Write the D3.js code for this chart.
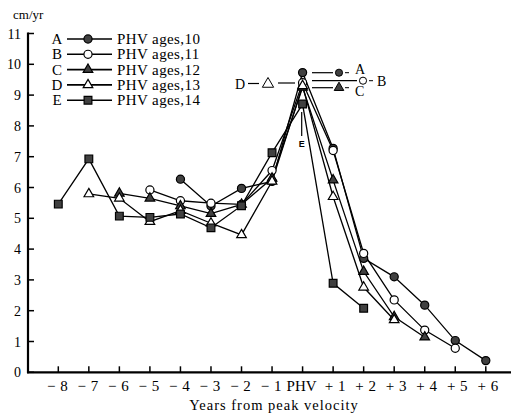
<!DOCTYPE html>
<html>
<head>
<meta charset="utf-8">
<script src="https://cdn.jsdelivr.net/npm/d3@7"></script>
<style>
  body { margin: 0; background: #fff; }
  svg { display: block; font-family: "Liberation Serif", "DejaVu Serif", serif; }
</style>
</head>
<body>
<div id="chart"></div>
<script>
// Years from peak height velocity (PHV = 0)
const years = [-8, -7, -6, -5, -4, -3, -2, -1, 0, 1, 2, 3, 4, 5, 6];
const tickLabels = ["− 8", "− 7", "− 6", "− 5", "− 4", "− 3", "− 2", "− 1", "PHV", "+ 1", "+ 2", "+ 3", "+ 4", "+ 5", "+ 6"];

// growth velocity (cm/yr), null = no value
const seriesA = [null, null, null, null, 6.27, 5.4, 5.97, 6.2, 9.73, 7.27, 3.70, 3.1, 2.18, 1.03, 0.38];
const seriesB = [null, null, null, 5.92, 5.57, 5.49, 5.45, 6.55, 9.4, 7.2, 3.86, 2.35, 1.37, 0.78, null];
const seriesC = [null, null, 5.81, 5.65, 5.40, 5.15, 5.45, 6.3, 9.25, 6.24, 3.27, 1.8, 1.14, null, null];
const seriesD = [null, 5.79, 5.65, 4.89, 5.25, 4.84, 4.46, 6.2, 9.3, 5.70, 2.76, 1.70, null, null, null];
const seriesE = [5.46, 6.93, 5.07, 5.03, 5.14, 4.69, 5.41, 7.13, 8.71, 2.89, 2.08, null, null, null, null];

const letters = ["A", "B", "C", "D", "E"];
const legendLabels = ["PHV ages,10", "PHV ages,11", "PHV ages,12", "PHV ages,13", "PHV ages,14"];
const yTicks = [0, 1, 2, 3, 4, 5, 6, 7, 8, 9, 10, 11];

const W = 511, H = 420;
const dark = "#404040";

const svg = d3.select("#chart").append("svg")
    .attr("width", W)
    .attr("height", H);

const x = d3.scaleLinear().domain([-8, 6]).range([58.3, 485.8]);
const y = d3.scaleLinear().domain([0, 11]).range([372.3, 33.5]);
const x0 = 28;

// marker styles per series
const styles = [
    { type: d3.symbolCircle, size: 52, fill: dark },
    { type: d3.symbolCircle, size: 52, fill: "#fff" },
    { type: d3.symbolTriangle, size: 40, fill: dark },
    { type: d3.symbolTriangle, size: 40, fill: "#fff" },
    { type: d3.symbolSquare, size: 60, fill: dark }
];
const allSeries = [seriesA, seriesB, seriesC, seriesD, seriesE];

// axes
svg.append("line")
    .attr("x1", x0).attr("x2", x0)
    .attr("y1", y(11) - 1).attr("y2", y(0) + 1)
    .attr("stroke", "#000").attr("stroke-width", 2.2);
svg.append("line")
    .attr("x1", x0 - 1).attr("x2", W)
    .attr("y1", y(0)).attr("y2", y(0))
    .attr("stroke", "#000").attr("stroke-width", 2.2);

// y ticks (inside)
svg.append("g").selectAll("line")
    .data(yTicks)
    .join("line")
    .attr("x1", x0).attr("x2", x0 + 6)
    .attr("y1", d => y(d)).attr("y2", d => y(d))
    .attr("stroke", "#000").attr("stroke-width", 1.5);

svg.append("g").selectAll("text")
    .data(yTicks)
    .join("text")
    .attr("x", 21)
    .attr("y", d => y(d) + 5)
    .attr("text-anchor", "end")
    .attr("font-size", 14)
    .text(d => d);

// x ticks (upward)
svg.append("g").selectAll("line")
    .data(years)
    .join("line")
    .attr("x1", d => x(d)).attr("x2", d => x(d))
    .attr("y1", y(0)).attr("y2", y(0) - 6)
    .attr("stroke", "#000").attr("stroke-width", 1.5);

svg.append("g").selectAll("text")
    .data(years)
    .join("text")
    .attr("x", (d, i) => x(d) + (d > 0 ? 2 : -1))
    .attr("y", 391)
    .attr("text-anchor", "middle")
    .attr("font-size", 15)
    .attr("word-spacing", 1)
    .text((d, i) => tickLabels[i]);

// axis titles
svg.append("text")
    .attr("x", 13).attr("y", 19)
    .attr("font-size", 13)
    .text("cm/yr");

svg.append("text")
    .attr("x", 274).attr("y", 410)
    .attr("text-anchor", "middle")
    .attr("font-size", 14.5)
    .attr("letter-spacing", 1)
    .text("Years from peak velocity");

// lines
const line = d3.line()
    .defined(d => d.v !== null)
    .x(d => x(d.t))
    .y(d => y(d.v));

allSeries.forEach((s, k) => {
    const pts = years.map((t, i) => ({ t: t, v: s[i] }));
    svg.append("path")
        .datum(pts)
        .attr("fill", "none")
        .attr("stroke", "#000")
        .attr("stroke-width", 1.3)
        .attr("d", line);
});

// markers
allSeries.forEach((s, k) => {
    const pts = years.map((t, i) => ({ t: t, v: s[i] })).filter(d => d.v !== null);
    const st = styles[k];
    svg.append("g").selectAll("path")
        .data(pts)
        .join("path")
        .attr("transform", d => `translate(${x(d.t)},${y(d.v)})`)
        .attr("d", d3.symbol().type(st.type).size(st.size))
        .attr("fill", st.fill)
        .attr("stroke", "#000")
        .attr("stroke-width", 1.2);
});

// legend
const legend = svg.append("g");
letters.forEach((l, i) => {
    const ly = 39 + i * 15.3;
    const st = styles[i];
    legend.append("text")
        .attr("x", 57).attr("y", ly + 5)
        .attr("text-anchor", "middle")
        .attr("font-size", 15)
        .text(l);
    legend.append("line")
        .attr("x1", 67).attr("x2", 112)
        .attr("y1", ly).attr("y2", ly)
        .attr("stroke", "#000").attr("stroke-width", 1.6);
    legend.append("path")
        .attr("transform", `translate(88,${ly})`)
        .attr("d", d3.symbol().type(st.type).size(st.size))
        .attr("fill", st.fill)
        .attr("stroke", "#000")
        .attr("stroke-width", 1.2);
    legend.append("text")
        .attr("x", 117).attr("y", ly + 5)
        .attr("font-size", 15)
        .attr("letter-spacing", 0.4)
        .text(legendLabels[i]);
});

// peak annotations
const ann = svg.append("g");
ann.append("text").attr("x", 235).attr("y", 89).attr("font-size", 14).text("D");
ann.append("line").attr("x1", 248).attr("x2", 259).attr("y1", 83.5).attr("y2", 83.5)
    .attr("stroke", "#000").attr("stroke-width", 1.2);
ann.append("path").attr("transform", "translate(268,84)")
    .attr("d", d3.symbol().type(d3.symbolTriangle).size(55))
    .attr("fill", "#fff").attr("stroke", "#000").attr("stroke-width", 1);
ann.append("line").attr("x1", 278).attr("x2", 295).attr("y1", 83).attr("y2", 83)
    .attr("stroke", "#000").attr("stroke-width", 1.2);

const rightAnn = [
    { yy: 72.7, x2: 333, mx: 339, type: d3.symbolCircle, fill: dark, lx: 355, label: "A", ty: 74 },
    { yy: 80.7, x2: 357, mx: 363, type: d3.symbolCircle, fill: "#fff", lx: 377, label: "B", ty: 86 },
    { yy: 87.7, x2: 333, mx: 339, type: d3.symbolTriangle, fill: dark, lx: 355, label: "C", ty: 96 }
];
rightAnn.forEach(a => {
    ann.append("line").attr("x1", 312).attr("x2", a.x2).attr("y1", a.yy).attr("y2", a.yy)
        .attr("stroke", "#000").attr("stroke-width", 1.2);
    ann.append("path").attr("transform", `translate(${a.mx},${a.yy})`)
        .attr("d", d3.symbol().type(a.type).size(40))
        .attr("fill", a.fill).attr("stroke", "#000").attr("stroke-width", 1);
    ann.append("line").attr("x1", a.mx + 6).attr("x2", a.mx + 10).attr("y1", a.yy).attr("y2", a.yy)
        .attr("stroke", "#000").attr("stroke-width", 1);
    ann.append("text").attr("x", a.lx).attr("y", a.ty).attr("font-size", 14).text(a.label);
});

ann.append("line").attr("x1", 301.7).attr("x2", 301.7).attr("y1", 112).attr("y2", 136)
    .attr("stroke", "#000").attr("stroke-width", 1.2);
ann.append("text").attr("x", 301.7).attr("y", 147).attr("text-anchor", "middle")
    .attr("font-size", 9).attr("font-weight", "bold")
    .attr("font-family", "Liberation Sans, sans-serif").text("E");
</script>
</body>
</html>
